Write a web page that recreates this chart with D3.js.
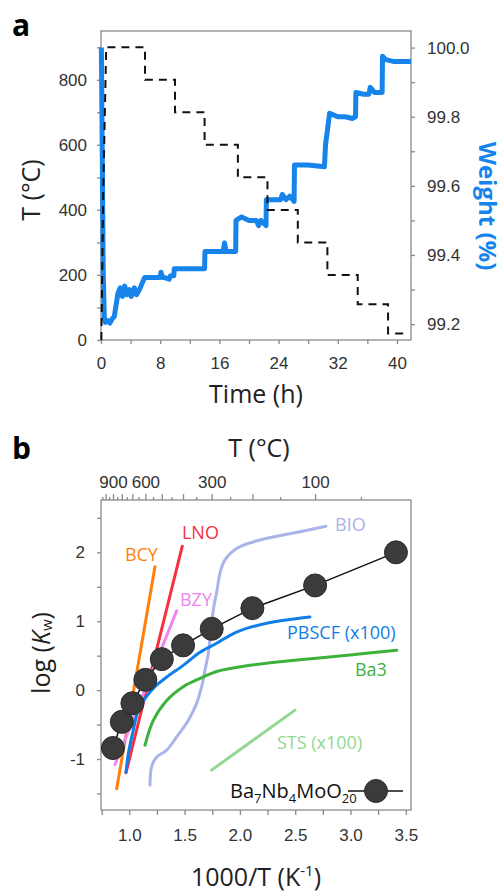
<!DOCTYPE html>
<html>
<head>
<meta charset="utf-8">
<script src="https://cdn.jsdelivr.net/npm/d3@7"></script>
<style>
  body { margin: 0; background: #fff; }
  svg { display: block; font-family: "Open Sans", "Noto Sans", sans-serif; }
  .tick text { fill: #333; font-size: 17px; }
  .axis path, .axis line { stroke: #8a8a8a; stroke-width: 1.3; }
</style>
</head>
<body>
<div id="app"></div>
<script>
// panel a: temperature program (dashed) and weight (blue)
const tempTime = [0.05, 0.3, 0.7, 5.95, 5.95, 10.0, 10.0, 14.0, 14.0, 18.5, 18.5, 22.5, 22.5, 26.6, 26.6, 30.6, 30.6, 34.7, 34.7, 38.8, 38.8, 41.1]
const tempC = [0, 450, 900, 900, 800, 800, 700, 700, 600, 600, 500, 500, 400, 400, 300, 300, 200, 200, 110, 110, 20, 20]

const weightTime = [0.05, 0.15, 0.3, 0.45, 0.6, 0.9, 1.2, 1.5, 1.8, 2.0, 2.3, 2.6, 2.9, 3.2, 3.5, 3.8, 4.1, 4.5, 4.8, 5.2, 5.6, 5.9,
  7.0, 8.0, 8.1, 8.3, 8.5, 9.2, 9.4, 9.85, 9.9, 11, 12, 14.0, 14.05, 15.5, 16.5, 16.7, 16.9, 17.1, 18.2, 18.25, 19, 20, 21, 21.3, 21.6, 22.3,
  22.35, 23.5, 24.3, 24.5, 25, 25.5, 26.1, 26.15, 28, 30.2, 30.35, 30.6, 30.9, 32, 33, 34, 34.4, 34.45, 35.5, 36.2, 36.4, 37, 38,
  38.05, 38.5, 39.5, 40.5, 41.9]
const weightPct = [100.0, 99.75, 99.35, 99.22, 99.205, 99.21, 99.203, 99.215, 99.222, 99.25, 99.29, 99.305, 99.28, 99.31, 99.285, 99.30, 99.28, 99.305, 99.285, 99.30, 99.32, 99.335,
  99.335, 99.335, 99.35, 99.335, 99.335, 99.33, 99.34, 99.34, 99.36, 99.36, 99.36, 99.36, 99.41, 99.41, 99.41, 99.435, 99.41, 99.41, 99.41, 99.50, 99.51, 99.50, 99.50, 99.485, 99.50, 99.485,
  99.56, 99.56, 99.56, 99.575, 99.56, 99.57, 99.555, 99.66, 99.66, 99.655, 99.72, 99.76, 99.81, 99.80, 99.80, 99.795, 99.80, 99.87, 99.865, 99.865, 99.885, 99.87, 99.87,
  99.975, 99.965, 99.96, 99.96, 99.96]

// panel b: log(Kw) vs 1000/T
const baInvT = [0.852, 0.932, 1.028, 1.145, 1.294, 1.486, 1.745, 2.113, 2.68, 3.411]
const baLogKw = [-0.84, -0.46, -0.19, 0.15, 0.45, 0.65, 0.89, 1.19, 1.52, 2.0]

const bcyX = [0.886, 1.232], bcyY = [-1.43, 1.79]
const lnoX = [0.970, 1.479], lnoY = [-1.20, 2.09]
const bzyX = [0.871, 1.428], bzyY = [-1.08, 1.15]
const stsX = [1.745, 2.498], stsY = [-1.16, -0.29]
const bioX = [1.187, 1.202, 1.248, 1.338, 1.428, 1.533, 1.609, 1.654, 1.684, 1.714, 1.730, 1.748, 1.766, 1.793, 1.820, 1.865, 1.974, 2.182, 2.543, 2.778]
const bioY = [-1.38, -1.11, -0.97, -0.87, -0.68, -0.44, -0.19, 0.05, 0.29, 0.53, 0.77, 1.02, 1.23, 1.45, 1.70, 1.89, 2.06, 2.18, 2.30, 2.38]
const pbscfX = [0.970, 0.991, 1.036, 1.081, 1.142, 1.232, 1.338, 1.488, 1.639, 1.790, 1.965, 2.242, 2.633]
const pbscfY = [-1.19, -0.92, -0.58, -0.29, -0.12, 0.05, 0.19, 0.36, 0.55, 0.68, 0.84, 0.97, 1.06]
const ba3X = [1.142, 1.217, 1.338, 1.488, 1.639, 1.790, 2.091, 2.543, 2.995, 3.418]
const ba3Y = [-0.80, -0.44, -0.15, 0.05, 0.17, 0.27, 0.36, 0.44, 0.51, 0.58]

const topTempMajor = [900, 600, 300, 100]
const topTempTicks = [1050, 1000, 950, 900, 850, 800, 750, 700, 650, 600, 550, 500, 450, 400, 350, 300, 250, 200, 150, 100, 50]

const W = 504, H = 892
const svg = d3.select('#app').append('svg').attr('width', W).attr('height', H)

const zip = (xs, ys) => xs.map((x, i) => [x, ys[i]])

// ---------- panel a ----------
const xA = d3.scaleLinear().domain([0, 41.9]).range([101, 411])
const yT = d3.scaleLinear().domain([0, 950]).range([340, 31])
const yW = d3.scaleLinear().domain([99.154, 100.048]).range([340, 31])

svg.append('rect').attr('x', 101).attr('y', 31).attr('width', 310).attr('height', 309)
  .attr('fill', 'none').attr('stroke', '#8a8a8a').attr('stroke-width', 1.3)

svg.append('g').attr('class', 'axis').attr('transform', 'translate(101,0)')
  .call(d3.axisLeft(yT).tickValues(d3.range(0, 901, 100)).tickSize(4).tickPadding(10)
    .tickFormat(d => d % 200 === 0 ? d : ''))
svg.append('g').attr('class', 'axis').attr('transform', 'translate(411,0)')
  .call(d3.axisRight(yW).tickValues(d3.range(99.2, 100.01, 0.1)).tickSize(4).tickPadding(12)
    .tickFormat((d, i) => i % 2 === 0 ? d3.format('.1f')(d) : ''))
svg.append('g').attr('class', 'axis').attr('transform', 'translate(0,340)')
  .call(d3.axisBottom(xA).tickValues(d3.range(0, 41, 4)).tickSize(4).tickPadding(13)
    .tickFormat(d => d % 8 === 0 ? d : ''))
svg.selectAll('.axis .domain').remove()

svg.append('path')
  .datum(zip(weightTime, weightPct))
  .attr('fill', 'none').attr('stroke', '#1784ec').attr('stroke-width', 5)
  .attr('stroke-linejoin', 'round')
  .attr('d', d3.line().x(d => xA(d[0])).y(d => yW(d[1])))

svg.append('path')
  .datum(zip(tempTime, tempC))
  .attr('fill', 'none').attr('stroke', '#111').attr('stroke-width', 2)
  .attr('stroke-dasharray', '8,6')
  .attr('d', d3.line().x(d => xA(d[0])).y(d => yT(d[1])))

svg.append('text').attr('x', 12).attr('y', 36).attr('font-size', 30).attr('font-weight', 'bold').text('a')
svg.append('text').attr('x', 256).attr('y', 403).attr('text-anchor', 'middle').attr('font-size', 25)
  .attr('fill', '#222').text('Time (h)')
svg.append('text').attr('transform', 'translate(30,190) rotate(-90)').attr('text-anchor', 'middle')
  .attr('dominant-baseline', 'central').attr('font-size', 25).attr('fill', '#222').text('T (°C)')
svg.append('text').attr('transform', 'translate(488,206) rotate(90)').attr('text-anchor', 'middle')
  .attr('dominant-baseline', 'central').attr('font-size', 24).attr('font-weight', 'bold')
  .attr('fill', '#1784ec').text('Weight (%)')

// ---------- panel b ----------
const xB = d3.scaleLinear().domain([0.744, 3.547]).range([101, 411])
const yB = d3.scaleLinear().domain([-1.74, 2.76]).range([810, 500])

svg.append('rect').attr('x', 101).attr('y', 500).attr('width', 310).attr('height', 310)
  .attr('fill', 'none').attr('stroke', '#8a8a8a').attr('stroke-width', 1.3)

svg.append('g').attr('class', 'axis b').attr('transform', 'translate(101,0)')
  .call(d3.axisLeft(yB).tickValues(d3.range(-1.5, 2.6, 0.5)).tickSize(4).tickPadding(12)
    .tickFormat(d => Number.isInteger(d) ? d : ''))
svg.append('g').attr('class', 'axis b').attr('transform', 'translate(0,810)')
  .call(d3.axisBottom(xB).tickValues(d3.range(0.75, 3.51, 0.25)).tickSize(5).tickPadding(14)
    .tickFormat(d => (d * 2) % 1 === 0 ? d3.format('.1f')(d) : ''))
const topAxis = svg.append('g').attr('class', 'axis b').attr('transform', 'translate(0,500)')
  .call(d3.axisTop(xB).tickValues(topTempTicks.map(c => 1000 / (c + 273.15))).tickSize(4).tickPadding(8)
    .tickFormat((d, i) => topTempMajor.includes(topTempTicks[i]) ? topTempTicks[i] : ''))
topAxis.selectAll('.tick line').attr('y2', (d, i) => topTempTicks[i] % 100 === 0 ? -6 : -3)
svg.selectAll('.axis.b .domain').remove()

const lineB = d3.line().x(d => xB(d[0])).y(d => yB(d[1]))
const smooth = d3.line().x(d => xB(d[0])).y(d => yB(d[1])).curve(d3.curveCatmullRom.alpha(0.5))

const curves = [
  { x: bioX, y: bioY, c: '#aab3ea', f: smooth },
  { x: stsX, y: stsY, c: '#92d892', f: lineB },
  { x: ba3X, y: ba3Y, c: '#3cb23c', f: smooth },
  { x: bcyX, y: bcyY, c: '#ff7f0a', f: lineB },
  { x: lnoX, y: lnoY, c: '#f5303f', f: lineB },
  { x: bzyX, y: bzyY, c: '#ef85ef', f: lineB },
  { x: pbscfX, y: pbscfY, c: '#0f7ee8', f: smooth }
]
curves.forEach(s => {
  svg.append('path').datum(zip(s.x, s.y))
    .attr('fill', 'none').attr('stroke', s.c).attr('stroke-width', 3)
    .attr('stroke-linecap', 'round').attr('d', s.f)
})

svg.append('path').datum(zip(baInvT, baLogKw))
  .attr('fill', 'none').attr('stroke', '#111').attr('stroke-width', 1.5).attr('d', lineB)
svg.selectAll('circle.ba').data(zip(baInvT, baLogKw)).enter().append('circle')
  .attr('class', 'ba').attr('cx', d => xB(d[0])).attr('cy', d => yB(d[1])).attr('r', 11.5)
  .attr('fill', '#3b3b3b').attr('stroke', '#2b2b2b').attr('stroke-width', 1)

const labels = [
  { t: 'BCY', x: 0.96, y: 1.87, c: '#ff7f0a' },
  { t: 'LNO', x: 1.476, y: 2.19, c: '#f5303f' },
  { t: 'BZY', x: 1.458, y: 1.22, c: '#ef85ef' },
  { t: 'BIO', x: 2.86, y: 2.31, c: '#aab3ea' },
  { t: 'PBSCF (x100)', x: 2.426, y: 0.74, c: '#0f7ee8' },
  { t: 'Ba3', x: 3.04, y: 0.20, c: '#3cb23c' },
  { t: 'STS (x100)', x: 2.335, y: -0.86, c: '#92d892' }
]
labels.forEach(l => {
  svg.append('text').attr('x', xB(l.x)).attr('y', yB(l.y)).attr('font-size', 18)
    .attr('fill', l.c).text(l.t)
})

// legend
const leg = svg.append('text').attr('x', 230).attr('y', 798).attr('font-size', 20).attr('fill', '#111')
;[['Ba', 0], ['7', 1], ['Nb', 0], ['4', 1], ['MoO', 0], ['20', 1]].forEach(([s, sub]) => {
  leg.append('tspan').attr('font-size', sub ? 13 : 20).attr('dy', sub ? 5 : (s === 'Ba' ? 0 : -5)).text(s)
})
svg.append('line').attr('x1', 348).attr('x2', 403).attr('y1', 791).attr('y2', 791)
  .attr('stroke', '#111').attr('stroke-width', 1.5)
svg.append('circle').attr('cx', 376).attr('cy', 791).attr('r', 11.5)
  .attr('fill', '#3b3b3b').attr('stroke', '#2b2b2b')

svg.append('text').attr('x', 12).attr('y', 459).attr('font-size', 30).attr('font-weight', 'bold').text('b')
svg.append('text').attr('x', 259).attr('y', 457).attr('text-anchor', 'middle').attr('font-size', 25)
  .attr('fill', '#222').text('T (°C)')
const xl = svg.append('text').attr('x', 256).attr('y', 886).attr('text-anchor', 'middle').attr('font-size', 25)
  .attr('fill', '#222')
xl.append('tspan').text('1000/T (K')
xl.append('tspan').attr('font-size', 15).attr('dy', -10).text('-1')
xl.append('tspan').attr('dy', 10).text(')')
const yl = svg.append('text').attr('transform', 'translate(40,653) rotate(-90)').attr('text-anchor', 'middle')
  .attr('dominant-baseline', 'central').attr('font-size', 25).attr('fill', '#222')
yl.append('tspan').text('log (')
yl.append('tspan').attr('font-style', 'italic').text('K')
yl.append('tspan').attr('font-size', 15).attr('dy', 6).text('w')
yl.append('tspan').attr('dy', -6).text(')')
</script>
</body>
</html>
